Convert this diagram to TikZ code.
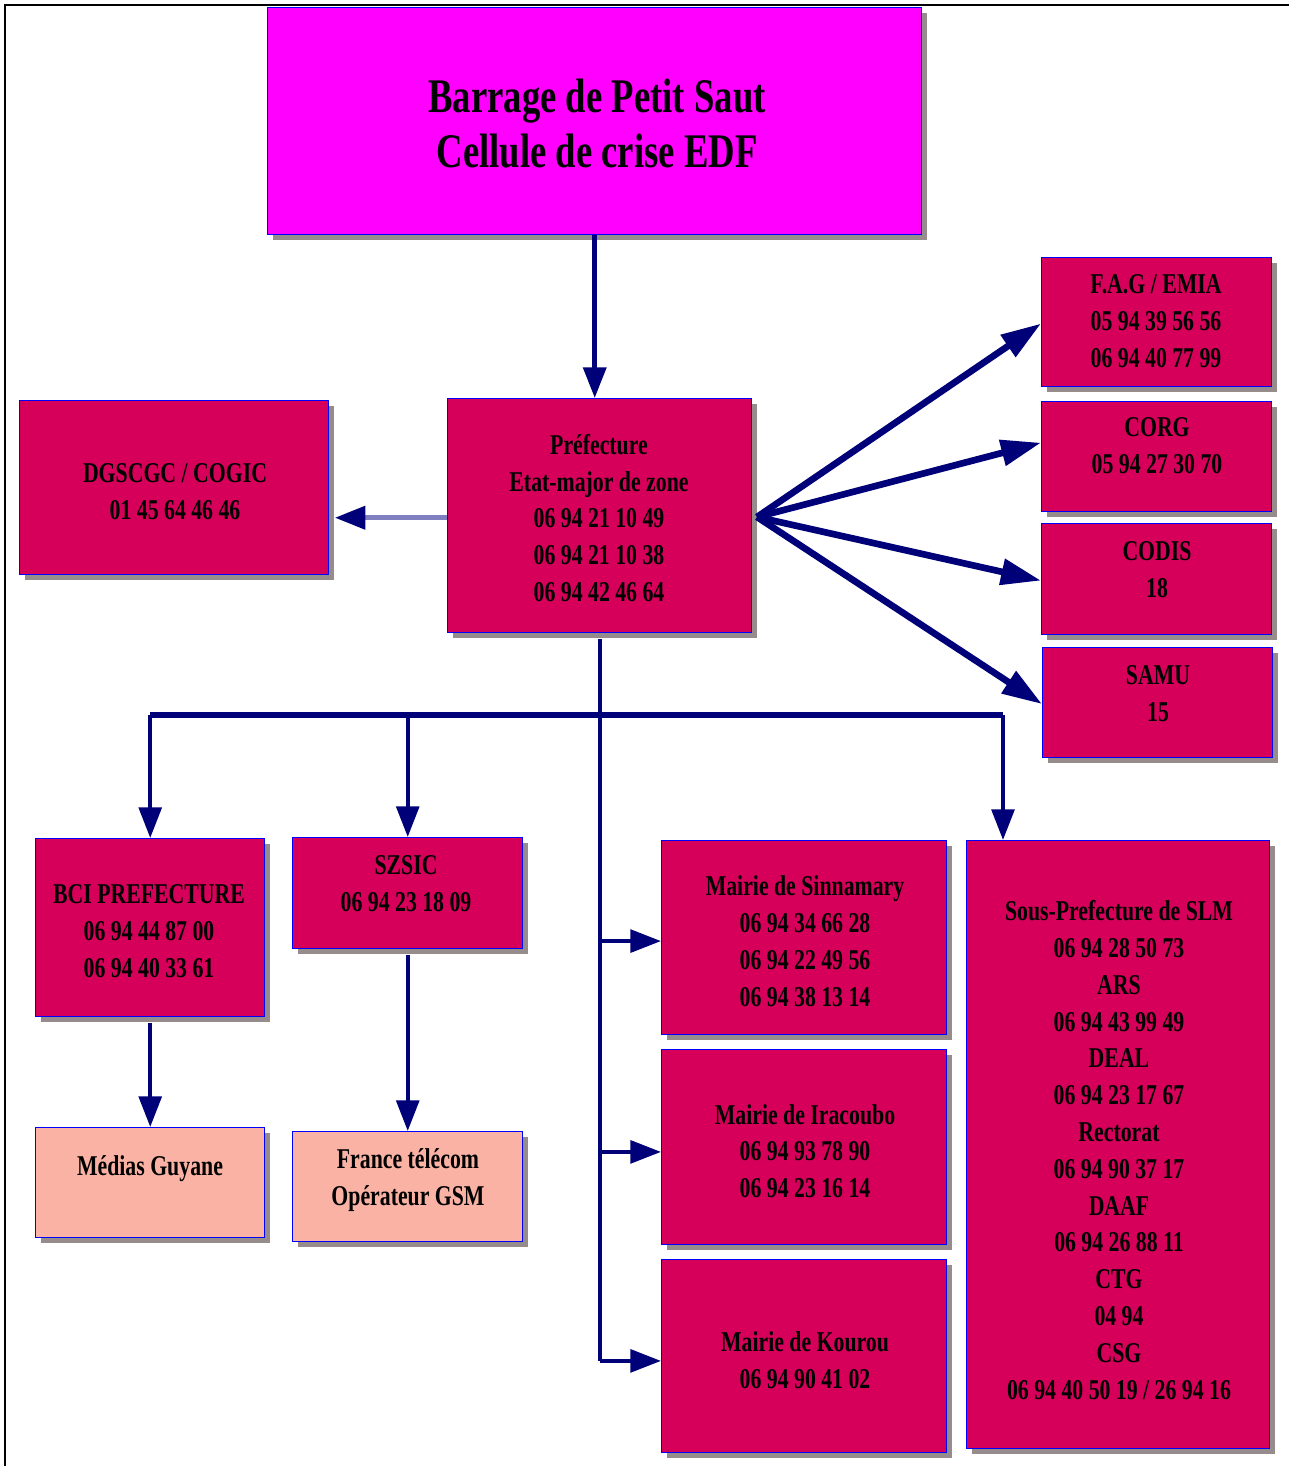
\documentclass[tikz,border=0pt]{standalone}
\usepackage{fontspec}
\setmainfont{Liberation Serif}[FakeStretch=0.76]
\usetikzlibrary{arrows.meta,shadows}
\definecolor{crim}{HTML}{D6005A}
\definecolor{mag}{HTML}{FF00FF}
\definecolor{salm}{HTML}{FAB2A4}
\definecolor{navy}{HTML}{000078}
\definecolor{lightln}{HTML}{8080C0}
\definecolor{boxblue}{HTML}{0000FF}
\definecolor{shadowgray}{HTML}{968C8C}
\tikzset{
  box/.style={draw=boxblue, line width=1.1pt, anchor=north west, inner sep=0pt,
    drop shadow={shadow xshift=4pt,shadow yshift=-4pt,fill=shadowgray,opacity=1}},
  txt/.style={align=center, font=\fontsize{21.5}{27.6}\selectfont\bfseries, inner sep=0pt},
  ttl/.style={align=center, font=\fontsize{36.2}{41.25}\selectfont\bfseries, inner sep=0pt},
  conn/.style={draw=navy, line width=3pt, -{Triangle[length=23pt,width=17pt]}},
  fanline/.style={draw=navy, line width=5pt, -{Triangle[length=30pt,width=19pt]}},
  plainline/.style={draw=navy, line width=3pt},
  busline/.style={draw=navy, line width=5pt},
}
\newcommand\mybox[6]{\node[box,fill=#6,minimum width={(#4-#2)*0.75pt},minimum height={(#5-#3)*0.75pt}] (#1) at (#2,#3) {};}
\begin{document}
\begin{tikzpicture}[x=0.75pt,y=-0.75pt]
\useasboundingbox[fill=white] (0,0) rectangle (1289,1466);
% frame
\draw[black, line width=1.2pt] (5,1466) -- (5,5) -- (1289,5);
% boxes
\mybox{top}{267}{7}{921}{234}{mag}
\mybox{pref}{447}{398}{751}{632}{crim}
\mybox{dgs}{19}{400}{328}{574}{crim}
\mybox{fag}{1041}{257}{1271}{386}{crim}
\mybox{corg}{1041}{401}{1271}{511}{crim}
\mybox{codis}{1041}{523}{1271}{634}{crim}
\mybox{samu}{1042}{647}{1272}{757}{crim}
\mybox{bci}{35}{838}{264}{1016}{crim}
\mybox{szs}{292}{837}{522}{948}{crim}
\mybox{sin}{661}{840}{946}{1034}{crim}
\mybox{ira}{661}{1049}{946}{1244}{crim}
\mybox{kou}{661}{1259}{946}{1452}{crim}
\mybox{sous}{966}{840}{1269}{1448}{crim}
\mybox{med}{35}{1127}{264}{1237}{salm}
\mybox{ft}{292}{1131}{522}{1241}{salm}
% texts
\node[ttl] (top-t) at (597,124) {Barrage de Petit Saut\\Cellule de crise EDF};
\node[txt] (pref-t) at (599,518) {Préfecture\\Etat-major de zone\\06 94 21 10 49\\06 94 21 10 38\\06 94 42 46 64};
\node[txt] (dgs-t) at (175,492) {DGSCGC / COGIC\\01 45 64 46 46};
\node[txt] (fag-t) at (1156,321) {F.A.G / EMIA\\05 94 39 56 56\\06 94 40 77 99};
\node[txt] (corg-t) at (1157,446) {CORG\\05 94 27 30 70};
\node[txt] (codis-t) at (1157,570) {CODIS\\18};
\node[txt] (samu-t) at (1158,694) {SAMU\\15};
\node[txt] (bci-t) at (149,931) {BCI PREFECTURE\\06 94 44 87 00\\06 94 40 33 61};
\node[txt] (szs-t) at (406,884) {SZSIC\\06 94 23 18 09};
\node[txt] (sin-t) at (805,941) {Mairie de Sinnamary\\06 94 34 66 28\\06 94 22 49 56\\06 94 38 13 14};
\node[txt] (ira-t) at (805,1151) {Mairie de Iracoubo\\06 94 93 78 90\\06 94 23 16 14};
\node[txt] (kou-t) at (805,1360) {Mairie de Kourou\\06 94 90 41 02};
\node[txt] (sous-t) at (1119,1150) {Sous-Prefecture de SLM\\06 94 28 50 73\\ARS\\06 94 43 99 49\\DEAL\\06 94 23 17 67\\Rectorat\\06 94 90 37 17\\DAAF\\06 94 26 88 11\\CTG\\04 94\\CSG\\06 94 40 50 19 / 26 94 16};
\node[txt] (med-t) at (150,1169) {Médias Guyane};
\node[txt] (ft-t) at (408,1180) {France télécom\\Opérateur GSM};
% connectors
\draw[conn, line width=3.5pt] (top.south) -- (top.south |- pref.north);
\draw[draw=lightln, line width=4pt, -{Triangle[length=23pt,width=17pt,color=navy]}] ([yshift=-1.5pt]pref.west) -- ([yshift=-1.5pt,xshift=4pt]pref.west -| dgs.east);
\coordinate (fan) at (757,517);
\draw[fanline] (fan) -- ([yshift=-1pt]fag.west);
\draw[fanline] (fan) -- ([yshift=10.5pt]corg.west);
\draw[fanline] (fan) -- ([yshift=-1pt]codis.west);
\draw[fanline] (fan) -- ([yshift=-1pt]samu.west);
% trunk
\coordinate (bus) at (599,715);
\coordinate (sx) at (1003,715);
\draw[plainline] ([yshift=-4pt]pref.south) -- ([yshift=-3.5pt]pref.south |- kou.west);
\draw[conn] ([yshift=-2.5pt]pref.south |- sin.west) -- ([yshift=-2.5pt]sin.west);
\draw[conn] ([yshift=-3.5pt]pref.south |- ira.west) -- ([yshift=-3.5pt]ira.west);
\draw[conn] ([yshift=-3.5pt]pref.south |- kou.west) -- ([yshift=-3.5pt]kou.west);
\draw[busline] (bci.north |- bus) -- (sx);
\draw[conn] (bci.north |- bus) -- (bci.north);
\draw[conn] (szs.north |- bus) -- (szs.north);
\draw[conn] (sx) -- (sx |- sous.north);
\draw[conn] ([yshift=-4pt]bci.south) -- (med.north);
\draw[conn] ([yshift=-4pt]szs.south) -- (ft.north);
\end{tikzpicture}
\end{document}
